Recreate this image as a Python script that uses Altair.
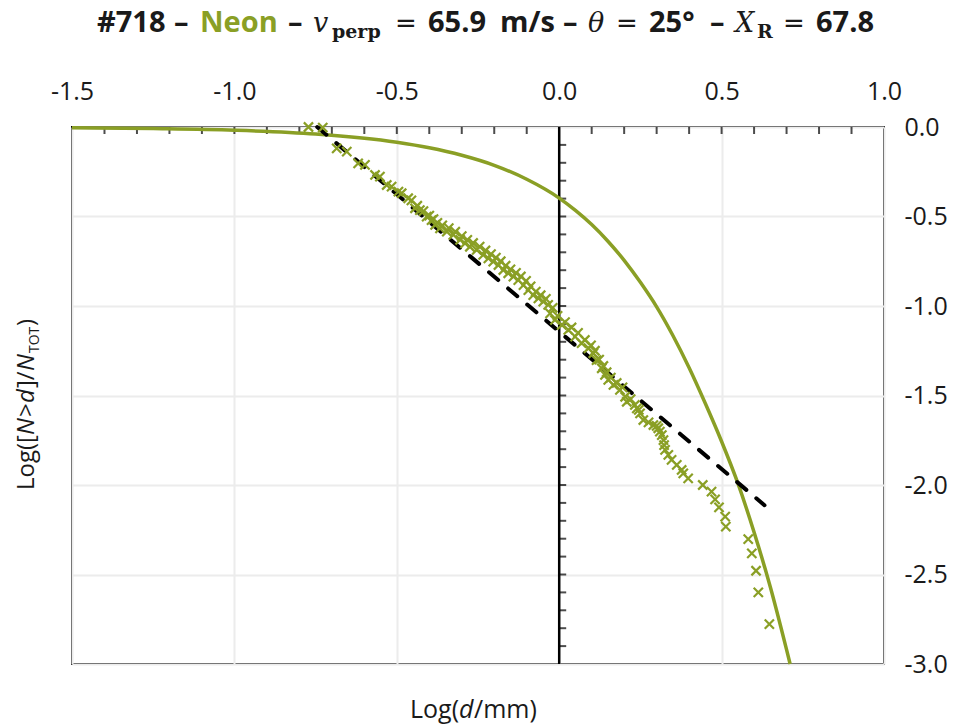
import altair as alt
import pandas as pd

GREEN = "#8a9f25"
INK = "#1a1a1a"
SANS = "Open Sans"
SERIF = "DejaVu Serif"

# ---- data ----
fit_x = [-1.5, -1.25, -1.0, -0.75, -0.5, -0.4, -0.3, -0.2, -0.1, 0.0, 0.05, 0.1, 0.15, 0.2,
         0.25, 0.3, 0.35, 0.4, 0.45, 0.5, 0.55, 0.6, 0.65, 0.7, 0.711]
fit_y = [-0.004, -0.009, -0.018, -0.039, -0.085, -0.116, -0.158, -0.214, -0.292, -0.397, -0.466,
         -0.545, -0.638, -0.745, -0.868, -1.005, -1.165, -1.345, -1.545, -1.757, -1.99, -2.264,
         -2.57, -2.92, -3.0]

pl_x = [-0.745, 0.632]
pl_y = [0.0, -2.113]

obs_x = [-0.772, -0.728, -0.685, -0.654, -0.619, -0.598, -0.567, -0.552, -0.531, -0.516,
         -0.495, -0.485, -0.465, -0.444, -0.429, -0.408, -0.393, -0.382, -0.367, -0.346,
         -0.326, -0.305, -0.290, -0.275, -0.254, -0.234, -0.218, -0.203, -0.187, -0.172,
         -0.157, -0.141, -0.126, -0.110, -0.095, -0.080, -0.064, -0.049, -0.034, -0.028,
         -0.013, 0.008, 0.028, 0.049, 0.069, 0.090, 0.105, 0.115, 0.131, 0.141,
         0.151, 0.167, 0.187, 0.203, 0.208, 0.233, 0.239, 0.249, 0.259, 0.290,
         0.305, 0.310, 0.316, 0.321, 0.323, 0.326, 0.336, 0.346, 0.362, 0.377,
         0.382, 0.397, 0.442, 0.469, 0.480, 0.492, 0.511, 0.513, 0.582, 0.593,
         0.606, 0.613, 0.647,
         -0.455, -0.437, -0.418, -0.400, -0.387, -0.375, -0.360, -0.340, -0.320, -0.300,
         -0.283, -0.265, -0.245, -0.227, -0.210, -0.195, -0.180, -0.165, -0.150, -0.133,
         -0.118, -0.102, -0.088, -0.072, -0.057, -0.041, -0.020, -0.005, 0.018, 0.038,
         0.058, 0.079, 0.098, 0.110, 0.123, 0.136, 0.146, 0.159, 0.177, 0.195,
         0.220, 0.245, 0.275, 0.300]
obs_y = [0.0, -0.003, -0.119, -0.138, -0.203, -0.212, -0.268, -0.277, -0.324, -0.333,
         -0.361, -0.370, -0.398, -0.454, -0.464, -0.501, -0.520, -0.547, -0.566, -0.585,
         -0.603, -0.631, -0.650, -0.669, -0.687, -0.715, -0.734, -0.752, -0.771, -0.799,
         -0.817, -0.836, -0.855, -0.883, -0.911, -0.939, -0.957, -0.976, -0.994, -1.041,
         -1.078, -1.106, -1.134, -1.171, -1.208, -1.236, -1.264, -1.302, -1.348, -1.385,
         -1.413, -1.441, -1.469, -1.507, -1.535, -1.553, -1.572, -1.600, -1.637, -1.665,
         -1.683, -1.702, -1.721, -1.749, -1.777, -1.804, -1.832, -1.860, -1.888, -1.916,
         -1.935, -1.963, -2.0, -2.037, -2.080, -2.125, -2.177, -2.233, -2.302, -2.382,
         -2.479, -2.60, -2.777,
         -0.410, -0.440, -0.470, -0.495, -0.515, -0.535, -0.550, -0.565, -0.585, -0.610,
         -0.630, -0.648, -0.668, -0.690, -0.710, -0.730, -0.750, -0.775, -0.795, -0.815,
         -0.835, -0.860, -0.890, -0.920, -0.940, -0.960, -1.010, -1.055, -1.090, -1.120,
         -1.150, -1.190, -1.220, -1.250, -1.300, -1.335, -1.370, -1.400, -1.430, -1.455,
         -1.520, -1.580, -1.650, -1.670]

x_labels = [-1.5, -1.0, -0.5, 0.0, 0.5, 1.0]
y_labels = [0.0, -0.5, -1.0, -1.5, -2.0, -2.5, -3.0]
x_minor = [-1.4, -1.3, -1.2, -1.1, -1.0, -0.9, -0.8, -0.7, -0.6, -0.5, -0.4, -0.3, -0.2, -0.1,
           0.1, 0.2, 0.3, 0.4, 0.5, 0.6, 0.7, 0.8, 0.9]
y_minor = [-0.1, -0.2, -0.3, -0.4, -0.5, -0.6, -0.7, -0.8, -0.9, -1.0, -1.1, -1.2, -1.3, -1.4,
           -1.5, -1.6, -1.7, -1.8, -1.9, -2.0, -2.1, -2.2, -2.3, -2.4, -2.5, -2.6, -2.7, -2.8, -2.9]

W, H = 812, 537

xs = alt.Scale(domain=[-1.5, 1.0], nice=False, zero=False)
ys = alt.Scale(domain=[-3.0, 0.0], nice=False, zero=False)
lab = "(datum.value < 0 ? '-' : '') + format(abs(datum.value), '.1f')"
xax = alt.Axis(orient="top", values=x_labels, grid=True, gridColor="#ececec", gridWidth=2,
               ticks=False, tickSize=0, domain=False, labelExpr=lab, labelFont=SANS,
               labelFontSize=25, labelColor=INK, labelPadding=23, labelFlush=False, title=None)
yax = alt.Axis(orient="right", values=y_labels, grid=True, gridColor="#ececec", gridWidth=2,
               ticks=False, tickSize=0, domain=False, labelExpr=lab, labelFont=SANS,
               labelFontSize=25, labelColor=INK, labelPadding=20, labelAlign="left",
               labelFlush=False, title=None)

X = alt.X("x:Q", scale=xs, axis=xax)
Y = alt.Y("y:Q", scale=ys, axis=yax)

fit_df = pd.DataFrame({"x": fit_x, "y": fit_y})
pl_df = pd.DataFrame({"x": pl_x, "y": pl_y})
obs_df = pd.DataFrame({"x": obs_x, "y": obs_y})
xt_df = pd.DataFrame({"x": x_minor, "y": [0.0] * len(x_minor)})
yt_df = pd.DataFrame({"x": [0.0] * len(y_minor), "y": y_minor})
ax_df = pd.DataFrame({"x": [0.0], "y": [0.0], "y2": [-3.0]})

zero_axis = alt.Chart(ax_df).mark_rule(color="black", strokeWidth=2.5).encode(
    x=X, y=Y, y2="y2:Q")

xticks = alt.Chart(xt_df).mark_tick(orient="vertical", size=7, thickness=2, color="black",
                                    yOffset=3.5).encode(x=X, y=Y)
yticks = alt.Chart(yt_df).mark_tick(orient="horizontal", size=7, thickness=2, color="black",
                                    xOffset=3.5).encode(x=X, y=Y)

fit = alt.Chart(fit_df).mark_line(color=GREEN, strokeWidth=3.5, interpolate="monotone").encode(
    x=X, y=Y, order="x:Q")
pl = alt.Chart(pl_df).mark_line(color="black", strokeWidth=4, strokeDash=[12, 13],
                                strokeCap="round").encode(x=X, y=Y)
obs = alt.Chart(obs_df).mark_point(shape="M-1,-1L1,1M-1,1L1,-1", filled=False, size=85,
                                   strokeWidth=2.2, color=GREEN, opacity=1).encode(x=X, y=Y)


def txt(s, x, y, size, weight="normal", style="normal", font=SANS, color=INK, angle=0):
    return alt.Chart(pd.DataFrame({"t": [s]})).mark_text(
        align="left", baseline="alphabetic", font=font, fontSize=size, fontWeight=weight,
        fontStyle=style, color=color, angle=angle).encode(
        x=alt.value(x), y=alt.value(y), text="t:N")


OX, OY = 72, 127
tb = 32 - OY
ts = 38 - OY
TS = 29
DASH = "\u2013"
EQ_FONT = "DejaVu Sans"
title_layers = [
    txt("#718", 97 - OX, tb, TS, "bold"),
    txt(DASH, 174 - OX, tb, TS, "bold"),
    txt("Neon", 200 - OX, tb, TS, "bold", color=GREEN),
    txt(DASH, 288 - OX, tb, TS, "bold"),
    txt("v", 313 - OX, tb, 27, "normal", "italic", SERIF),
    txt("perp", 332 - OX, ts, 19, "bold", font=SERIF),
    txt("=", 395 - OX, tb, 26, font=EQ_FONT),
    txt("65.9", 428 - OX, tb, TS, "bold"),
    txt("m/s", 500 - OX, tb, TS, "bold"),
    txt(DASH, 563 - OX, tb, TS, "bold"),
    txt("\u03b8", 588 - OX, tb, 27, "normal", "italic", SERIF),
    txt("=", 616 - OX, tb, 26, font=EQ_FONT),
    txt("25\u00b0", 649 - OX, tb, TS, "bold"),
    txt(DASH, 710 - OX, tb, TS, "bold"),
    txt("X", 735 - OX, tb, 27, "normal", "italic", SERIF),
    txt("R", 757 - OX, ts, 19, "bold", font=SERIF),
    txt("=", 783 - OX, tb, 26, font=EQ_FONT),
    txt("67.8", 816 - OX, tb, TS, "bold"),
]

xb = 718 - OY
xtitle = [
    txt("Log(", 410 - OX, xb, 25),
    txt("d", 459 - OX, xb, 25, style="italic"),
    txt("/mm)", 474 - OX, xb, 25),
]

yx = 34 - OX
ytitle = [
    txt("Log([", yx, 490 - OY, 24, angle=270),
    txt("N", yx, 435 - OY, 24, style="italic", angle=270),
    txt(">", yx, 417 - OY, 24, angle=270),
    txt("d", yx, 403 - OY, 24, style="italic", angle=270),
    txt("]/", yx, 388 - OY, 24, angle=270),
    txt("N", yx, 371 - OY, 24, style="italic", angle=270),
    txt("TOT", 39 - OX, 353 - OY, 14, angle=270),
    txt(")", yx, 326 - OY, 24, angle=270),
]

chart = alt.layer(zero_axis, xticks, yticks, fit, pl, obs, *title_layers, *xtitle, *ytitle).properties(
    width=W, height=H,
    autosize=alt.AutoSizeParams(type="none"),
    padding={"left": 72, "top": 127, "right": 69, "bottom": 62},
    background="white",
).configure_view(stroke="black", strokeWidth=2)

chart.save("out.html", embed_options={"renderer": "svg", "actions": False})
